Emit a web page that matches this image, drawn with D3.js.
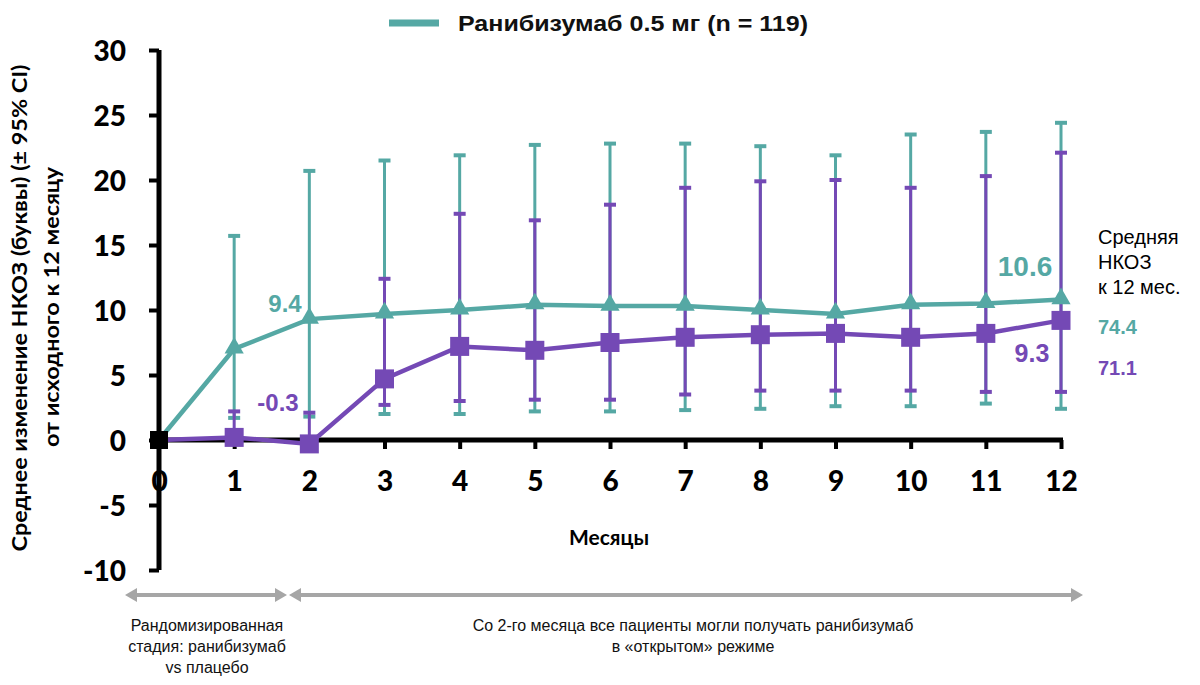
<!DOCTYPE html>
<html>
<head>
<meta charset="utf-8">
<script src="https://cdn.jsdelivr.net/npm/d3@7/dist/d3.min.js"></script>
<style>
  html, body { margin: 0; padding: 0; background: #fff; }
  svg { display: block; }
</style>
</head>
<body>
<svg id="chart" width="1200" height="685"></svg>
<script>
// ---------- DATA ----------
const months = [0, 1, 2, 3, 4, 5, 6, 7, 8, 9, 10, 11, 12];
const yTicks = [-10, -5, 0, 5, 10, 15, 20, 25, 30];

const ranibizumab      = [0, 7.0, 9.3, 9.7, 10.0, 10.4, 10.3, 10.3, 10.0, 9.7, 10.4, 10.5, 10.8];
const ranibizumabLow   = [null, 1.7, 1.8, 2.0, 2.0, 2.2, 2.2, 2.3, 2.4, 2.6, 2.6, 2.8, 2.4];
const ranibizumabHigh  = [null, 15.7, 20.7, 21.5, 21.9, 22.7, 22.8, 22.8, 22.6, 21.9, 23.5, 23.7, 24.4];

const placebo          = [0, 0.2, -0.3, 4.7, 7.2, 6.9, 7.5, 7.9, 8.1, 8.2, 7.9, 8.2, 9.2];
const placeboLow       = [null, null, null, 2.7, 3.0, 3.1, 3.1, 3.5, 3.8, 3.8, 3.8, 3.7, 3.7];
const placeboHigh      = [null, 2.2, 2.1, 12.4, 17.4, 16.9, 18.1, 19.4, 19.9, 20.0, 19.4, 20.3, 22.1];

const legendLabel = "Ранибизумаб 0.5 мг (n = 119)";
const yTitle = ["Среднее изменение НКОЗ  (буквы) (± 95% CI)", "от исходного к 12 месяцу"];
const xTitle = "Месяцы";
const valueLabels = [
  { text: "9.4",  series: "r", month: 2 },
  { text: "-0.3", series: "p", month: 2 },
  { text: "10.6", series: "r", month: 12 },
  { text: "9.3",  series: "p", month: 12 }
];
const sideTitle = ["Средняя", "НКОЗ", "к 12 мес."];
const sideValues = ["74.4", "71.1"];
const phase1Text = ["Рандомизированная", "стадия: ранибизумаб", "vs плацебо"];
const phase2Text = ["Со 2-го месяца все пациенты могли получать ранибизумаб", "в «открытом» режиме"];

// ---------- STYLE ----------
const TEAL = "#55A8A4";
const PURPLE = "#7449B5";
const GREY = "#A6A6A6";
const NUMFONT = "Lato, 'Open Sans', sans-serif";
const ARIAL = "'Liberation Sans', Arial, sans-serif";
const NARROW = "'Liberation Sans Narrow', 'Arial Narrow', 'Liberation Sans', sans-serif";

const svg = d3.select("#chart");
const x = d3.scaleLinear().domain([0, 12]).range([159, 1061]);
const y = d3.scaleLinear().domain([-10, 30]).range([570, 50]);

// ---------- LEGEND ----------
svg.append("line").attr("x1", 389).attr("x2", 439).attr("y1", 23).attr("y2", 23)
  .attr("stroke", TEAL).attr("stroke-width", 7);
svg.append("text").attr("x", 458).attr("y", 31).text(legendLabel)
  .attr("font-family", ARIAL).attr("font-weight", "bold").attr("font-size", 22).attr("fill", "#111")
  .attr("textLength", 350).attr("lengthAdjust", "spacingAndGlyphs");

// ---------- AXES ----------
const fmt = d => String(d);
const yAxis = d3.axisLeft(y).tickValues(yTicks).tickSize(10).tickPadding(23).tickFormat(fmt);
const gy = svg.append("g").attr("transform", `translate(${x(0)},0)`).call(yAxis);
gy.select(".domain").attr("stroke", "#000").attr("stroke-width", 5)
  .attr("d", `M0,${y(30)}V${y(-10)}`);
gy.selectAll(".tick line").attr("stroke", "#000").attr("stroke-width", 4);
gy.selectAll(".tick text").attr("font-family", NUMFONT).attr("font-weight", 900)
  .attr("font-size", 28).attr("fill", "#000").attr("dy", "0.36em");

const xAxis = d3.axisBottom(x).tickValues(months).tickSize(9).tickPadding(18).tickFormat(fmt);
const gx = svg.append("g").attr("transform", `translate(0,${y(0)})`).call(xAxis);
gx.select(".domain").attr("stroke", "#000").attr("stroke-width", 5)
  .attr("d", `M${x(0)},0H${x(12) + 2}`);
gx.selectAll(".tick line").attr("stroke", "#000").attr("stroke-width", 4);
gx.selectAll(".tick text").attr("font-family", NUMFONT).attr("font-weight", 900)
  .attr("font-size", 28).attr("fill", "#000").attr("dy", "0.85em");

// Axis titles
svg.append("text").attr("transform", "translate(27,308) rotate(-90)").attr("text-anchor", "middle")
  .attr("font-family", NUMFONT).attr("font-weight", "bold").attr("font-size", 21).attr("fill", "#000")
  .attr("textLength", 487).attr("lengthAdjust", "spacingAndGlyphs").text(yTitle[0]);
svg.append("text").attr("transform", "translate(59,307) rotate(-90)").attr("text-anchor", "middle")
  .attr("font-family", NUMFONT).attr("font-weight", "bold").attr("font-size", 21).attr("fill", "#000")
  .attr("textLength", 280).attr("lengthAdjust", "spacingAndGlyphs").text(yTitle[1]);
svg.append("text").attr("x", 609).attr("y", 545).attr("text-anchor", "middle")
  .attr("font-family", NUMFONT).attr("font-weight", "bold").attr("font-size", 21).attr("fill", "#000")
  .text(xTitle);

// ---------- ERROR BARS ----------
function errorBars(vals, lows, highs, color) {
  const g = svg.append("g").attr("stroke", color).attr("stroke-width", 3);
  months.forEach((m, i) => {
    if (highs[i] == null) return;
    const top = highs[i];
    const bot = lows[i] == null ? vals[i] : lows[i];
    g.append("line").attr("x1", x(m)).attr("x2", x(m)).attr("y1", y(top)).attr("y2", y(bot));
    g.append("line").attr("x1", x(m) - 6).attr("x2", x(m) + 6).attr("y1", y(top)).attr("y2", y(top)).attr("stroke-width", 4);
    if (lows[i] != null)
      g.append("line").attr("x1", x(m) - 6).attr("x2", x(m) + 6).attr("y1", y(bot)).attr("y2", y(bot)).attr("stroke-width", 4);
  });
}
errorBars(ranibizumab, ranibizumabLow, ranibizumabHigh, TEAL);
errorBars(placebo, placeboLow, placeboHigh, PURPLE);

// ---------- LINES ----------
const line = d3.line().x((d, i) => x(months[i])).y(d => y(d));
svg.append("path").datum(ranibizumab).attr("d", line).attr("fill", "none")
  .attr("stroke", TEAL).attr("stroke-width", 4.5);
svg.append("path").datum(placebo).attr("d", line).attr("fill", "none")
  .attr("stroke", PURPLE).attr("stroke-width", 4.5);

// ---------- MARKERS ----------
const tri = d3.symbol().type(d3.symbolTriangle).size(160);
svg.append("g").selectAll("path").data(ranibizumab.slice(1)).join("path")
  .attr("d", tri)
  .attr("transform", (d, i) => `translate(${x(months[i + 1])},${y(d) - 1})`)
  .attr("fill", TEAL);
const sq = 19;
svg.append("g").selectAll("rect").data(placebo.slice(1)).join("rect")
  .attr("x", (d, i) => x(months[i + 1]) - sq / 2).attr("y", d => y(d) - sq / 2)
  .attr("width", sq).attr("height", sq).attr("fill", PURPLE);
svg.append("rect").attr("x", x(0) - 9).attr("y", y(0) - 9).attr("width", 18).attr("height", 18).attr("fill", "#000");

// ---------- VALUE LABELS ----------
const labelPos = {
  "r2": { x: 285, y: 312, size: 24 },
  "p2": { x: 278, y: 411, size: 24 },
  "r12": { x: 1025, y: 276, size: 28 },
  "p12": { x: 1032, y: 362, size: 25 }
};
valueLabels.forEach(l => {
  const p = labelPos[l.series + l.month];
  svg.append("text").attr("x", p.x).attr("y", p.y).attr("text-anchor", "middle")
    .attr("font-family", ARIAL).attr("font-weight", "bold").attr("font-size", p.size)
    .attr("fill", l.series === "r" ? TEAL : PURPLE).text(l.text);
});

// ---------- SIDE ANNOTATION ----------
sideTitle.forEach((t, i) => {
  svg.append("text").attr("x", 1098).attr("y", 244 + i * 25).attr("font-family", ARIAL)
    .attr("font-size", 20).attr("fill", "#000").text(t);
});
svg.append("text").attr("x", 1098).attr("y", 334).attr("font-family", ARIAL).attr("font-weight", "bold")
  .attr("font-size", 20).attr("fill", TEAL).text(sideValues[0]);
svg.append("text").attr("x", 1098).attr("y", 375).attr("font-family", ARIAL).attr("font-weight", "bold")
  .attr("font-size", 20).attr("fill", PURPLE).text(sideValues[1]);

// ---------- PHASE ARROWS ----------
function dblArrow(x1, x2, yy) {
  const g = svg.append("g");
  g.append("line").attr("x1", x1 + 8).attr("x2", x2 - 8).attr("y1", yy).attr("y2", yy)
    .attr("stroke", GREY).attr("stroke-width", 4);
  g.append("path").attr("d", `M${x1},${yy}L${x1 + 12},${yy - 7}L${x1 + 12},${yy + 7}Z`).attr("fill", GREY);
  g.append("path").attr("d", `M${x2},${yy}L${x2 - 12},${yy - 7}L${x2 - 12},${yy + 7}Z`).attr("fill", GREY);
}
dblArrow(125, 287, 595);
dblArrow(289, 1083, 595);

phase1Text.forEach((t, i) => {
  svg.append("text").attr("x", 207).attr("y", 631 + i * 21).attr("text-anchor", "middle")
    .attr("font-family", NARROW).attr("font-size", 16).attr("fill", "#111").text(t);
});
phase2Text.forEach((t, i) => {
  svg.append("text").attr("x", 693).attr("y", 631 + i * 21).attr("text-anchor", "middle")
    .attr("font-family", NARROW).attr("font-size", 16).attr("fill", "#111").text(t);
});
</script>
</body>
</html>
